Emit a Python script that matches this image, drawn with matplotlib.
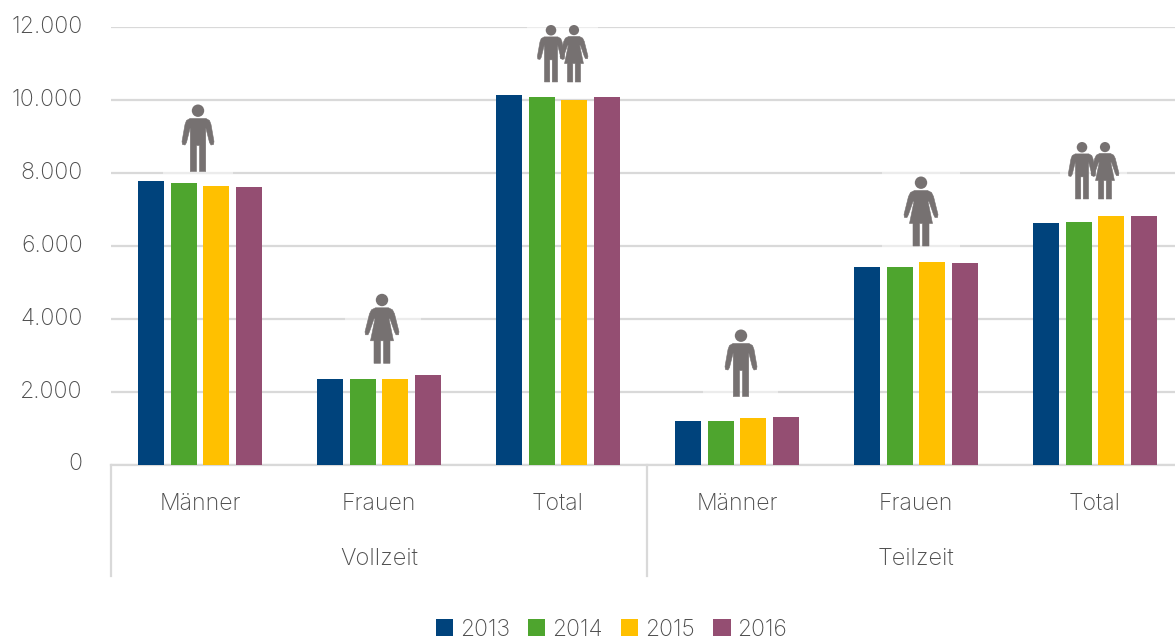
import matplotlib
matplotlib.use('Agg')
import matplotlib.pyplot as plt
from matplotlib.patches import Polygon, Circle, Rectangle
from matplotlib.transforms import blended_transform_factory, ScaledTranslation
import numpy as np

plt.rcParams['font.family'] = ['Inter', 'DejaVu Sans']
plt.rcParams['font.weight'] = 'light'

categories = ['Männer', 'Frauen', 'Total', 'Männer', 'Frauen', 'Total']
groups = ['Vollzeit', 'Teilzeit']
years = ['2013', '2014', '2015', '2016']
y2013 = [7780, 2350, 10130, 1190, 5430, 6620]
y2014 = [7730, 2350, 10070, 1200, 5430, 6640]
y2015 = [7640, 2350, 10000, 1270, 5550, 6810]
y2016 = [7610, 2450, 10070, 1290, 5530, 6810]
yticks = [0, 2000, 4000, 6000, 8000, 10000, 12000]
ylabels = ['0', '2.000', '4.000', '6.000', '8.000', '10.000', '12.000']

W = 1175
H = 639
colors = ['#00437c', '#4ea52e', '#ffc000', '#944e72']
grey = '#d9d9d9'
txt = '#4d4d4d'
icon = '#767171'

fig = plt.figure(figsize=(W / 100, H / 100), dpi=100)
ax = fig.add_axes([110.5 / W, 1 - 464.5 / H, (W - 110.5) / W, 437.5 / H])
x = np.arange(6)
for i, vals in enumerate([y2013, y2014, y2015, y2016]):
    ax.bar(x + (i - 1.5) * 0.1816, vals, 0.145, color=colors[i], label=years[i], zorder=3)

ax.set_xlim(-0.5, 5.447)
ax.set_ylim(0, 12000)
ax.set_yticks(yticks)
ax.set_yticklabels(ylabels, fontsize=16.6, color=txt, va='center')
for lab in ax.get_yticklabels():
    lab.set_transform(lab.get_transform() + ScaledTranslation(0, 1.5 / 100, fig.dpi_scale_trans))
ax.set_xticks(x)
ax.set_xticklabels(categories, fontsize=16.6, color=txt)
ax.tick_params(axis='y', length=0, pad=20)
ax.tick_params(axis='x', length=0, pad=20.5)
ax.grid(axis='y', color=grey, lw=1.6, zorder=0)
ax.set_axisbelow(True)
for s in ['top', 'right', 'left']:
    ax.spines[s].set_visible(False)
ax.spines['bottom'].set_color(grey)
ax.spines['bottom'].set_linewidth(1.6)

# zweite Achsenebene unten
tr = blended_transform_factory(ax.transData, ax.transAxes)
for xs in [-0.5, 2.5]:
    ax.plot([xs, xs], [0, -111.5 / 437.5], transform=tr, color=grey, lw=1.6, clip_on=False)
for xs, g in zip([1, 4], groups):
    ax.text(xs, -94 / 437.5, g, transform=tr, ha='center', va='center', fontsize=17, color=txt)

leg = fig.legend(loc='center', bbox_to_anchor=(611.5 / W, 1 - 629.5 / H), ncol=4, frameon=False,
                 fontsize=16.5, handlelength=0.75, handleheight=0.75, handletextpad=0.3,
                 columnspacing=0.8, borderpad=0, labelcolor=txt)

# Piktogramme, Overlay in Pixeln
ov = fig.add_axes([0, 0, 1, 1], zorder=5)
ov.set_xlim(0, W)
ov.set_ylim(H, 0)
ov.axis('off')
ov.patch.set_alpha(0)

man_half = [(0, 14), (8, 14), (11.5, 16), (13, 20), (16, 37), (15.5, 40), (13, 40.5), (11.5, 38),
            (8, 24), (7.7, 24), (7.7, 67), (1.5, 67), (1.5, 41), (0, 41)]
woman_half = [(0, 14), (6.5, 14), (10.5, 16), (12.5, 20), (17, 38), (16.5, 41), (14, 41), (12.5, 38),
              (8, 25), (7, 25), (11.5, 47), (8, 47), (8, 69.5), (1.5, 69.5), (1.5, 47), (0, 47)]


def person(cx, top, half, s=1.0):
    right = [(cx + a * s, top + b * s) for a, b in half]
    left = [(cx - a * s, top + b * s) for a, b in reversed(half)]
    ov.add_patch(Polygon(right + left, closed=True, fc=icon, ec=icon, lw=0.4, joinstyle='round'))
    ov.add_patch(Circle((cx, top + 6.2 * s), 6.2 * s, fc=icon, ec='none'))


def mask(x0, x1, y0, y1):
    ov.add_patch(Rectangle((x0, y0), x1 - x0, y1 - y0, fc='white', ec='none', alpha=0.5))


mask(163, 233, 102, 174)
person(198, 104.5, man_half)
mask(345, 421, 292, 365)
person(382, 293.8, woman_half)
mask(703, 778, 327, 398)
person(741, 329.5, man_half)
mask(882, 960, 172, 248)
person(921, 176.5, woman_half)
mask(527, 598, 24, 84)
person(551, 25, man_half, 0.85)
person(574, 25, woman_half, 0.82)
mask(1060, 1127, 140, 201)
person(1082, 142, man_half, 0.85)
person(1105, 142, woman_half, 0.82)

fig.savefig('out.png', dpi=100)
